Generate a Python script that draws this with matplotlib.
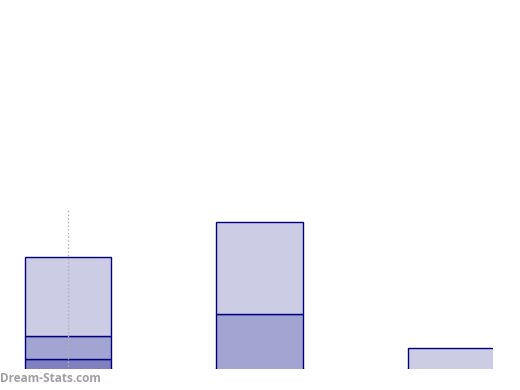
import numpy as np
import matplotlib.pyplot as plt

# stacked series, bottom to top
groups = [0, 1, 2]
dark = [3.0, 0.0, 0.0]
mid = [6.2, 15.2, 0.0]
light = [21.4, 24.9, 6.0]
ref_line = 43.4

colors = ['#8080c0', '#a2a4d2', '#cccce4']

fig = plt.figure(figsize=(5.2, 3.9), dpi=100)
ax = fig.add_axes([0, 21 / 390, 493 / 520, 369 / 390])

x = np.array(groups)
bottom = np.zeros(3)
for vals, c in zip([dark, mid, light], colors):
    vals = np.array(vals)
    # skip empty pieces so no stray outlines show
    mask = vals > 0
    ax.bar(x[mask], vals[mask], width=0.45, bottom=bottom[mask], color=c,
           edgecolor='#000080', linewidth=1)
    bottom += vals

ax.vlines(0, 0, ref_line, colors='#b0b0b8', linestyles=':', linewidth=1, zorder=5)

ax.set_xlim(-68 / 191, 2 + 42 / 191)
ax.set_ylim(0.25, 100)
ax.axis('off')

fig.text(0, 11 / 390, 'Dream-Stats.com', ha='left', va='center',
         fontsize=8.5, fontweight='bold', color='#a0a0a0', family='Open Sans')

fig.savefig('out.png', dpi=100)
